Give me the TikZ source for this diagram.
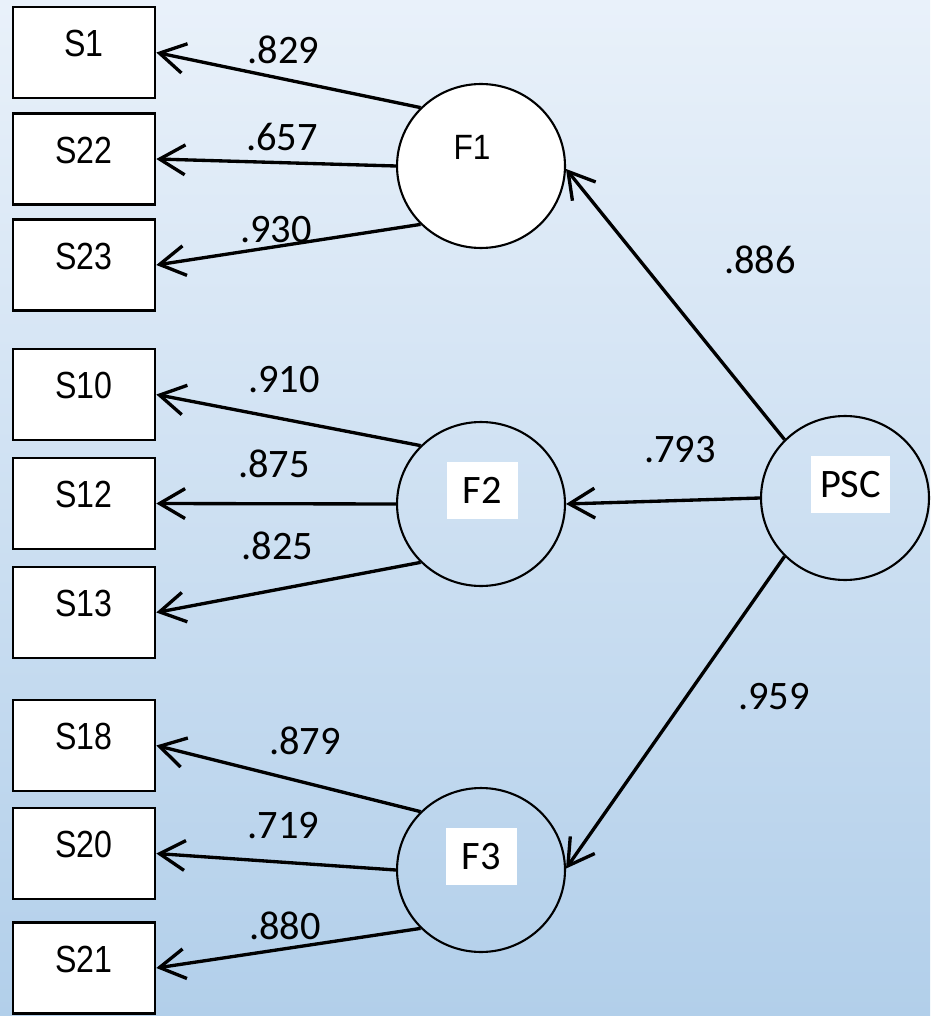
\documentclass[tikz,border=0pt]{standalone}
\usepackage{fontspec}
\setmainfont{Liberation Sans}
\newfontfamily\calfont{Carlito}
\usetikzlibrary{arrows.meta,shapes.geometric}
\definecolor{bgtop}{HTML}{E9F1FA}
\definecolor{bgbot}{HTML}{B2CFEA}
\newcommand\narrowtxt[1]{\scalebox{0.85}[1]{#1}}
\begin{document}
\begin{tikzpicture}[x=0.02cm,y=-0.02cm,
  arr/.style={-{Straight Barb[length=14.5pt,width=17pt]}, line width=1.9pt},
  obs/.style={draw, line width=1.5pt, fill=white, minimum width=2.84cm, minimum height=1.82cm, inner sep=0pt, font=\fontsize{21.5}{24}\selectfont, text height=15.4pt, text depth=10.8pt},
  lat/.style={ellipse, draw, line width=1.2pt, minimum width=3.36cm, minimum height=3.28cm, inner sep=0pt},
  coef/.style={font=\calfont\fontsize{23}{26}\selectfont, inner sep=0pt},
  tag/.style={fill=white, font=\calfont\fontsize{23}{26}\selectfont, minimum height=1.14cm, inner sep=0pt}
]
\shade[top color=bgtop, bottom color=bgbot] (0,0) rectangle (930,1016);
\useasboundingbox (0,0) rectangle (930,1016);

% observed variables
\node[obs] (S1)  at (84,52.5)  {\narrowtxt{S1}};
\node[obs] (S22) at (84,159)   {\narrowtxt{S22}};
\node[obs] (S23) at (84,265)   {\narrowtxt{S23}};
\node[obs] (S10) at (84,394.5) {\narrowtxt{S10}};
\node[obs] (S12) at (84,503.5) {\narrowtxt{S12}};
\node[obs] (S13) at (84,612.5) {\narrowtxt{S13}};
\node[obs] (S18) at (84,745.5) {\narrowtxt{S18}};
\node[obs] (S20) at (84,853.5) {\narrowtxt{S20}};
\node[obs] (S21) at (84,968)   {\narrowtxt{S21}};

% latent variables
\node[lat, fill=white] (F1) at (481,166) {};
\node[lat] (F2) at (481,504) {};
\node[lat] (F3) at (481,870) {};
\node[lat] (PSC) at (845,498) {};

\node[font=\fontsize{20}{22}\selectfont, inner sep=0pt] (F1t) at (472,147) {\scalebox{0.9}[1]{F1}};
\node[tag, minimum width=1.42cm] (F2t) at (482.5,490.5) {F2};
\node[tag, minimum width=1.42cm] (F3t) at (481.5,856.5) {F3};
\node[tag, minimum width=1.58cm] (PSCt) at (850.5,484.5) {PSC};

% loadings
\draw[arr] (F1.136) -- (S1.east);
\draw[arr] (F1.180) -- (S22.east);
\draw[arr] (F1.224) -- (S23.east);
\draw[arr] (F2.136) -- (S10.east);
\draw[arr] (F2.180) -- (S12.east);
\draw[arr] (F2.224) -- (S13.east);
\draw[arr] (F3.136) -- (S18.east);
\draw[arr] (F3.180) -- (S20.east);
\draw[arr] (F3.224) -- (S21.east);
\draw[arr] (PSC.136) -- (F1.-2);
\draw[arr] (PSC.180) -- (F2.0);
\draw[arr] (PSC.224) -- (F3.1);

% coefficients
\node[coef] (c1) at (283.5,50) {.829};
\node[coef] (c2) at (282,137) {.657};
\node[coef] (c3) at (276,230) {.930};
\node[coef] (c4) at (284,380) {.910};
\node[coef] (c5) at (274,464) {.875};
\node[coef] (c6) at (277.5,546) {.825};
\node[coef] (c7) at (305,741) {.879};
\node[coef] (c8) at (283.5,826) {.719};
\node[coef] (c9) at (285,926) {.880};
\node[coef] (c10) at (760,260) {.886};
\node[coef] (c11) at (680,450) {.793};
\node[coef] (c12) at (774,697) {.959};
\end{tikzpicture}
\end{document}
